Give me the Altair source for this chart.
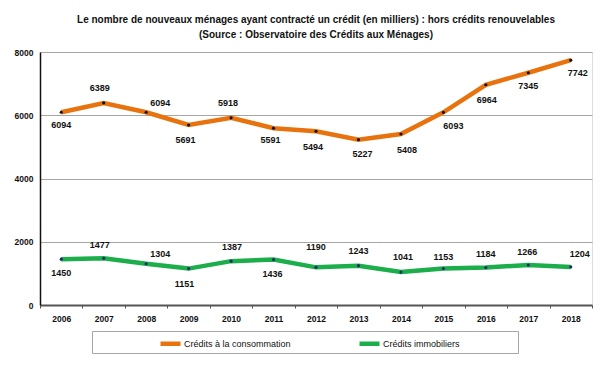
import altair as alt
import pandas as pd

years = [str(y) for y in range(2006, 2019)]
conso = [6094, 6389, 6094, 5691, 5918, 5591, 5494, 5227, 5408, 6093, 6964, 7345, 7742]
immo = [1450, 1477, 1304, 1151, 1387, 1436, 1190, 1243, 1041, 1153, 1184, 1266, 1204]
series_names = ["Crédits à la consommation", "Crédits immobiliers"]
line_colors = ["#E8730E", "#1BAE4B"]
dot_colors = ["#111111", "#1F2A6B"]

# label nudges (pixels): horizontal and vertical (+ = below)
conso_dx = [0, -4, 14, -3, -3, -3, -3, 4, 6, 10, 1, 0, 7]
conso_dy = [13, -15, -9, 15, -15, 12, 16, 14, 16, 14, 15, 13, 13]
immo_dx = [0, -4, 14, -4, 1, -1, 0, 0, 2, 0, 0, -1, 9]
immo_dy = [14, -13, -10, 15, -14, 14, -20, -15, -15, -12, -14, -13, -13]

rows = []
for name, vals, dxs, dys in [
    (series_names[0], conso, conso_dx, conso_dy),
    (series_names[1], immo, immo_dx, immo_dy),
]:
    for y, v, dx, dy in zip(years, vals, dxs, dys):
        rows.append({"year": y, "series": name, "value": v, "dx": dx, "dy": dy})
df = pd.DataFrame(rows)

FONT = "Liberation Sans, Arial, sans-serif"
PLOT_W, PLOT_H = 552, 253
YMAX = 8000
HALF_BAND = PLOT_W / len(years) / 2

x = alt.X(
    "year:N",
    sort=years,
    scale=alt.Scale(type="band", paddingInner=0, paddingOuter=0),
    axis=alt.Axis(
        title=None, labelAngle=0, labelFont=FONT, labelFontSize=8.5, labelFontWeight="bold",
        labelColor="#111111", labelPadding=6, tickBand="extent", ticks=True, tickSize=3,
        tickColor="#555555", domainColor="#555555", domainWidth=2, grid=False,
    ),
)
y_axis = alt.Axis(
    title=None, values=[0, 2000, 4000, 6000, 8000], format="d", labelFont=FONT, labelFontSize=8.5,
    labelFontWeight="bold", labelColor="#111111", labelPadding=7, ticks=False,
    domainColor="#111111", domainWidth=1.5, grid=True, gridColor="#A6A6A6", gridWidth=1,
)
y_scale = alt.Scale(domain=[0, YMAX], nice=False)
y = alt.Y("value:Q", scale=y_scale, axis=y_axis)

base = alt.Chart(df)

# trailing non-breaking spaces (kept by a zero-width end char) widen the legend frame
pad = "\u00a0" * 23 + "\u200b"
lines = base.mark_line(strokeWidth=4.5).encode(
    x=x,
    y=y,
    color=alt.Color(
        "series:N",
        scale=alt.Scale(domain=series_names, range=line_colors),
        legend=alt.Legend(
            title=None, orient="none", legendX=52, legendY=279, direction="horizontal",
            strokeColor="#A6A6A6", padding=0, symbolType="stroke", symbolStrokeWidth=4.5,
            symbolSize=400, symbolOffset=66, columnPadding=0, labelFont=FONT,
            labelFontSize=9, labelColor="#111111", labelOffset=1, labelLimit=600,
            labelExpr=f"indexof(datum.label, 'immobiliers') >= 0 ? datum.label + '{pad}' : datum.label",
        ),
    ),
)

points = base.mark_point(filled=True, size=10, opacity=1).encode(
    x=x,
    y=y,
    fill=alt.Fill("series:N", scale=alt.Scale(domain=series_names, range=dot_colors), legend=None),
)

labels = (
    base.transform_calculate(
        ly=f"datum.value - datum.dy * {YMAX} / {PLOT_H}",
        lx=f"datum.dx + {HALF_BAND}",
    )
    .mark_text(font=FONT, fontSize=9, fontWeight="bold", color="#111111", baseline="middle")
    .encode(
        x=x,
        y=alt.Y("ly:Q", scale=y_scale, axis=y_axis),
        xOffset=alt.XOffset("lx:Q", scale=None),
        text="value:Q",
    )
)

chart = (
    alt.layer(lines, points, labels)
    .properties(
        width=PLOT_W,
        height=PLOT_H,
        autosize=alt.AutoSizeParams(type="none"),
        padding={"left": 32, "top": 44, "right": 10, "bottom": 58},
        title=alt.TitleParams(
            ["Le nombre de nouveaux ménages ayant contracté un crédit (en milliers) : hors crédits renouvelables",
             "(Source : Observatoire des Crédits aux Ménages)"],
            font=FONT, fontSize=10, fontWeight="bold", color="#111111", anchor="middle",
            lineHeight=15, offset=8,
        ),
    )
    .configure_view(stroke="#A6A6A6", strokeWidth=1)
    .configure(background="white")
)

chart.save("out.html", embed_options={"renderer": "svg", "actions": False})
